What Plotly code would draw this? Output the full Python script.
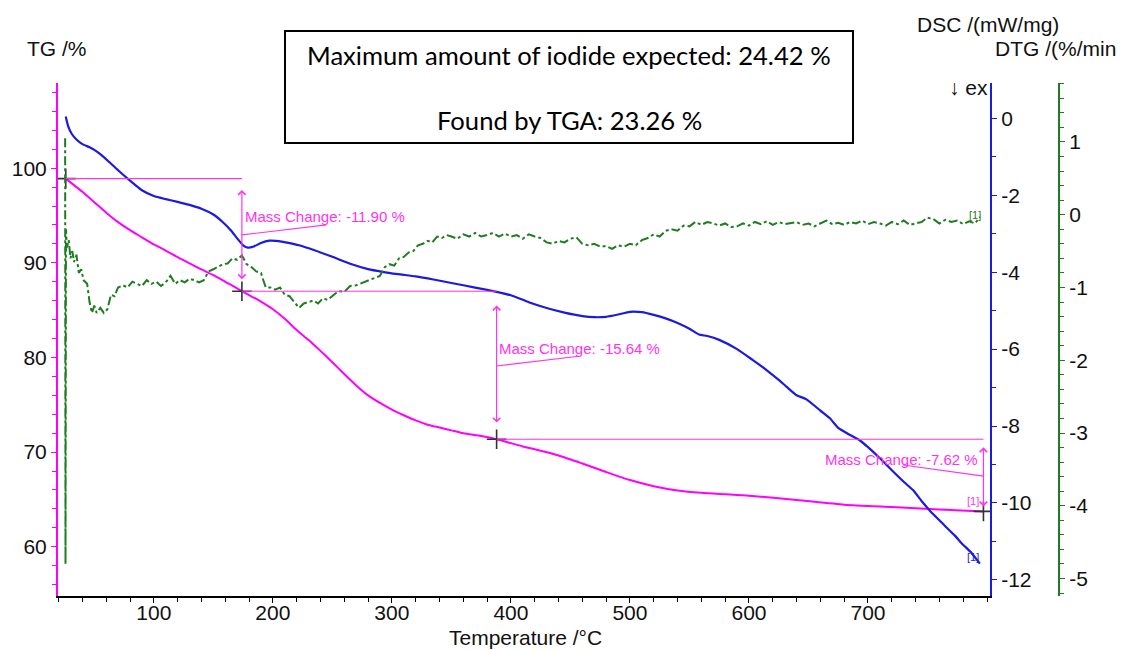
import numpy as np
import plotly.graph_objects as go

# ---------------- data ----------------
T_tg = [26, 30, 40, 50, 60, 70, 80, 90, 100, 110, 120, 130, 140, 150, 160, 170, 174, 180,
        190, 200, 210, 220, 230, 240, 250, 260, 270, 280, 290, 300, 310, 320, 330, 340, 350,
        360, 375, 388, 400, 410, 420, 440, 460, 480, 500, 520, 540, 560, 580, 600, 640, 680,
        720, 760, 797]
TG = [98.9, 98.5, 97.5, 96.4, 95.3, 94.3, 93.45, 92.7, 91.95, 91.3, 90.6, 89.95, 89.3, 88.7,
      88.0, 87.3, 87.0, 86.6, 85.9, 85.1, 84.1, 82.9, 81.85, 80.7, 79.5, 78.25, 77.05, 76.0,
      75.2, 74.5, 73.9, 73.35, 72.9, 72.6, 72.3, 72.0, 71.7, 71.36, 70.95, 70.6, 70.3, 69.65,
      68.8, 67.9, 67.05, 66.4, 65.95, 65.7, 65.55, 65.4, 64.95, 64.45, 64.2, 63.95, 63.74]

T_dsc = [26, 28, 31, 35, 40, 46, 50, 55, 62, 70, 80, 90, 100, 110, 120, 130, 140, 150, 158,
         165, 170, 175, 179, 184, 190, 197, 205, 212, 222, 235, 250, 265, 280, 292, 305, 320,
         335, 350, 370, 388, 400, 415, 430, 445, 460, 470, 480, 490, 500, 510, 520, 530, 540,
         550, 558, 565, 575, 590, 603, 615, 625, 632, 640, 648, 660, 668, 675, 683, 693, 700,
         710, 720, 730, 738, 745, 752, 760, 766, 773, 779, 787, 794]
DSC = [0.05, -0.2, -0.4, -0.55, -0.67, -0.75, -0.82, -0.93, -1.12, -1.35, -1.62, -1.87, -2.02,
       -2.1, -2.17, -2.25, -2.35, -2.5, -2.7, -2.92, -3.12, -3.3, -3.36, -3.33, -3.24, -3.18,
       -3.19, -3.23, -3.3, -3.43, -3.6, -3.78, -3.92, -3.99, -4.05, -4.11, -4.19, -4.28, -4.4,
       -4.51, -4.6, -4.78, -4.93, -5.05, -5.14, -5.17, -5.16, -5.1, -5.03, -5.04, -5.11, -5.2,
       -5.32, -5.47, -5.62, -5.66, -5.76, -6.0, -6.28, -6.55, -6.8, -6.99, -7.2, -7.3, -7.6,
       -7.8, -8.05, -8.2, -8.37, -8.55, -8.84, -9.15, -9.45, -9.67, -9.95, -10.2, -10.45,
       -10.64, -10.85, -11.06, -11.3, -11.58]

T_dtg = [25.5, 25.8, 26.2, 27, 28.5, 30, 31.5, 33, 35, 37, 39, 41, 44, 46, 48, 50, 52, 55, 58,
         61, 64, 67, 70, 74, 78, 82, 86, 90, 94, 98, 102, 106, 110, 114, 118, 122, 126, 130,
         134, 138, 142, 146, 150, 154, 158, 162, 166, 170, 174, 178, 182, 186, 190, 194, 198,
         202, 206, 210, 214, 218, 222, 226, 230, 234, 238, 242, 246, 250, 255, 260, 265, 270,
         275, 280, 285, 290, 294, 298, 302, 306, 310, 314, 318, 322, 326, 330, 334, 338, 342,
         346, 350, 355, 360, 365, 370, 375, 380, 385, 390, 395, 400, 405, 410, 415, 420, 425,
         430, 435, 440, 445, 450, 455, 460, 465, 470, 475, 480, 485, 490, 495, 500, 505, 510,
         515, 520, 525, 530, 535, 540, 545, 550, 555, 560, 565, 570, 575, 580, 585, 590, 595,
         600, 605, 610, 615, 620, 625, 630, 635, 640, 645, 650, 655, 660, 665, 670, 675, 680,
         685, 690, 695, 700, 705, 710, 715, 720, 725, 730, 735, 740, 745, 750, 755, 760, 765,
         770, 775, 780, 785, 790, 794]
DTG = [1.05, -4.8, -0.2, -0.45, -0.35, -0.6, -0.5, -0.65, -0.55, -0.8, -0.75, -0.9, -0.95,
       -1.2, -1.35, -1.25, -1.35, -1.28, -1.35, -1.3, -1.1, -1.12, -1.0, -0.97, -1.0, -0.92,
       -0.95, -0.98, -0.9, -0.95, -0.92, -0.98, -0.93, -0.84, -0.95, -0.9, -0.93, -0.88, -0.9,
       -0.93, -0.9, -0.78, -0.75, -0.72, -0.68, -0.67, -0.6, -0.62, -0.56, -0.68, -0.72, -0.78,
       -0.8, -1.0, -1.0, -1.03, -1.0, -1.1, -1.12, -1.2, -1.28, -1.22, -1.2, -1.18, -1.22,
       -1.15, -1.17, -1.12, -1.05, -1.06, -0.98, -0.97, -0.94, -0.9, -0.88, -0.84, -0.72, -0.68,
       -0.7, -0.6, -0.58, -0.52, -0.5, -0.42, -0.4, -0.36, -0.38, -0.3, -0.32, -0.28, -0.3,
       -0.33, -0.27, -0.3, -0.25, -0.3, -0.28, -0.25, -0.3, -0.26, -0.3, -0.28, -0.33, -0.27,
       -0.3, -0.32, -0.38, -0.4, -0.36, -0.38, -0.33, -0.31, -0.4, -0.42, -0.4, -0.44, -0.43,
       -0.47, -0.42, -0.44, -0.4, -0.42, -0.35, -0.32, -0.27, -0.3, -0.22, -0.2, -0.22, -0.15,
       -0.16, -0.1, -0.14, -0.1, -0.12, -0.15, -0.12, -0.17, -0.16, -0.12, -0.15, -0.1, -0.13,
       -0.09, -0.14, -0.1, -0.13, -0.12, -0.1, -0.14, -0.12, -0.16, -0.12, -0.08, -0.13, -0.11,
       -0.14, -0.1, -0.12, -0.08, -0.13, -0.1, -0.12, -0.15, -0.1, -0.13, -0.08, -0.14, -0.12,
       -0.1, -0.04, -0.06, -0.12, -0.07, -0.1, -0.08, -0.13, -0.09, -0.12, -0.03]

# mass-change evaluation points
step_T = [26, 174, 388, 797]
step_TG = [98.9, 87.0, 71.36, 63.74]
step_labels = ["Mass Change: -11.90 %", "Mass Change: -15.64 %", "Mass Change: -7.62 %"]

x_ticks = [100, 200, 300, 400, 500, 600, 700]
tg_ticks = [60, 70, 80, 90, 100]
dsc_ticks = [0, -2, -4, -6, -8, -10, -12]
dtg_ticks = [1, 0, -1, -2, -3, -4, -5]

box_lines = ["Maximum amount of iodide expected: 24.42 %", "Found by TGA: 23.26 %"]

# ---------------- styling ----------------
W, H = 1121, 650
ML, MR, MT, MB = 58, 62, 83, 54
PW, PH = W - ML - MR, H - MT - MB
MAG = "#ff00ff"
MAG_T = "#ff33ee"
BLUE = "#1a1ae0"
GREEN = "#1f7d1f"
FONT = "Liberation Sans, Arial, sans-serif"
FS = 21


def px(xp):
    return (xp - ML) / PW


def py(yp):
    return (H - MB - yp) / PH


def fmt(v):
    return ("-" if v < 0 else "") + f"{abs(v):g}"


fig = go.Figure()
fig.add_trace(go.Scatter(x=T_dtg, y=DTG, mode="lines", yaxis="y3",
                         line=dict(color=GREEN, width=2, dash="dashdot"), hoverinfo="skip"))
fig.add_trace(go.Scatter(x=T_tg, y=TG, mode="lines", yaxis="y",
                         line=dict(color=MAG, width=2, shape="spline", smoothing=0.6),
                         hoverinfo="skip"))
fig.add_trace(go.Scatter(x=T_dsc, y=DSC, mode="lines", yaxis="y2",
                         line=dict(color=BLUE, width=2.2, shape="spline", smoothing=0.5),
                         hoverinfo="skip"))
fig.add_trace(go.Scatter(x=step_T, y=step_TG, mode="markers", yaxis="y",
                         marker=dict(symbol="cross-thin", size=14,
                                     line=dict(color="#333333", width=1.6)),
                         hoverinfo="skip"))

shapes = []
annotations = []
# horizontal reference lines
for i in range(3):
    shapes.append(dict(type="line", xref="x", yref="y", x0=step_T[i], x1=step_T[i + 1],
                       y0=step_TG[i], y1=step_TG[i], line=dict(color=MAG_T, width=1.2)))

arrow_gap_top = [1.2, 1.5, 0.85]
arrow_gap_bot = [1.1, 1.6, 0.35]
arrow_x = [step_T[1], step_T[2], step_T[3]]
label_pos = [(174.6, 94.85, "left"), (388.3, 81.0, "left"), (794.0, 69.27, "right")]
leader = [((174, 92.95), (245, 94.0)), ((388, 79.1), (457, 80.13)), ((729.5, 68.64), (797, 67.47))]
for i in range(3):
    top = step_TG[i] - arrow_gap_top[i]
    bot = step_TG[i + 1] + arrow_gap_bot[i]
    annotations.append(dict(x=arrow_x[i], y=top, ax=arrow_x[i], ay=bot, xref="x", yref="y",
                            axref="x", ayref="y", text="", showarrow=True,
                            arrowside="end+start", arrowhead=4, arrowsize=1.2,
                            arrowwidth=1.2, arrowcolor=MAG_T))
    lx, ly, anc = label_pos[i]
    annotations.append(dict(x=lx, y=ly, xref="x", yref="y", text=step_labels[i],
                            showarrow=False, xanchor=anc, yanchor="middle",
                            font=dict(family=FONT, size=15, color=MAG_T)))
    (a, b), (c, d) = leader[i]
    shapes.append(dict(type="line", xref="x", yref="y", x0=a, y0=b, x1=c, y1=d,
                       line=dict(color=MAG_T, width=1.2)))

# [1] end markers
annotations.append(dict(x=788, y=64.83, xref="x", yref="y", text="[1]", showarrow=False,
                        xanchor="center", yanchor="middle",
                        font=dict(family=FONT, size=11, color=MAG_T)))
annotations.append(dict(x=788, y=-11.4, xref="x", yref="y2", text="[1]", showarrow=False,
                        xanchor="center", yanchor="middle",
                        font=dict(family=FONT, size=11, color=BLUE)))
annotations.append(dict(x=790, y=-0.0, xref="x", yref="y3", text="[1]", showarrow=False,
                        xanchor="center", yanchor="middle",
                        font=dict(family=FONT, size=11, color=GREEN)))


def title(xc, yc, text, anchor="center", size=FS, family=FONT, color="#111"):
    return dict(x=px(xc), y=py(yc), xref="paper", yref="paper", text=text, showarrow=False,
                xanchor=anchor, yanchor="middle", font=dict(family=family, size=size, color=color))


annotations += [
    title(57, 48, "TG /%"),
    title(988, 24, "DSC /(mW/mg)"),
    title(1055, 49, "DTG /(%/min"),
    title(990, 87, "↓ ex", anchor="right"),
    title(525, 637, "Temperature /°C"),
]

# text box
shapes.append(dict(type="rect", xref="paper", yref="paper", x0=px(285), x1=px(853),
                   y0=py(143), y1=py(31), line=dict(color="black", width=2),
                   fillcolor="white"))
annotations.append(title(569, 55, box_lines[0], size=25.6, family="Lato", color="black"))
annotations.append(title(569, 120, box_lines[1], size=25.6, family="Lato", color="black"))

tickfont = dict(family=FONT, size=FS, color="#111")
fig.update_layout(
    width=W, height=H, autosize=False,
    margin=dict(l=ML, r=MR, t=MT, b=MB),
    paper_bgcolor="white", plot_bgcolor="white", showlegend=False,
    shapes=shapes, annotations=annotations,
    xaxis=dict(domain=[0, px(990)], range=[19.5, 802.5], showline=True, linecolor="black",
               linewidth=1.5, ticks="outside", ticklen=5, tickcolor="black", tickwidth=1.2,
               tickmode="array", tickvals=x_ticks, ticktext=[str(v) for v in x_ticks],
               ticklabelstandoff=-8,
               minor=dict(ticks="outside", tickmode="array",
                          tickvals=list(np.arange(20, 801, 20)), ticklen=4,
                          tickcolor="black"),
               showgrid=False, zeroline=False, tickfont=tickfont),
    yaxis=dict(range=[54.8, 109.0], showline=True, linecolor=MAG, linewidth=2,
               ticks="outside", ticklen=5, tickcolor=MAG, tickwidth=1.2,
               tickmode="array", tickvals=tg_ticks, ticktext=[fmt(v) for v in tg_ticks],
               minor=dict(ticks="outside", tickmode="array",
                          tickvals=list(np.arange(56, 109, 2)), ticklen=4, tickcolor=MAG),
               showgrid=False, zeroline=False, tickfont=tickfont),
    yaxis2=dict(range=[-12.42, 0.92], overlaying="y", side="right", anchor="x",
                showline=True, linecolor=BLUE, linewidth=2, ticks="outside", ticklen=5,
                tickcolor=BLUE, tickwidth=1.2, tickmode="array", tickvals=dsc_ticks,
                ticktext=[fmt(v) for v in dsc_ticks],
                minor=dict(ticks="outside", tickmode="array",
                           tickvals=list(np.arange(-11, 1, 2)), ticklen=4, tickcolor=BLUE),
                showgrid=False, zeroline=False, tickfont=tickfont),
    yaxis3=dict(range=[-5.24, 1.81], overlaying="y", side="right", anchor="free",
                position=1.0, showline=True, linecolor=GREEN, linewidth=2, ticks="outside",
                ticklen=5, tickcolor=GREEN, tickwidth=1.2, tickmode="array",
                tickvals=dtg_ticks, ticktext=[fmt(v) for v in dtg_ticks],
                minor=dict(ticks="outside", tickmode="array",
                           tickvals=[round(v, 1) for v in np.arange(-5.2, 1.81, 0.2)],
                           ticklen=4, tickcolor=GREEN),
                showgrid=False, zeroline=False, tickfont=tickfont),
)

fig.write_html("out.html")
